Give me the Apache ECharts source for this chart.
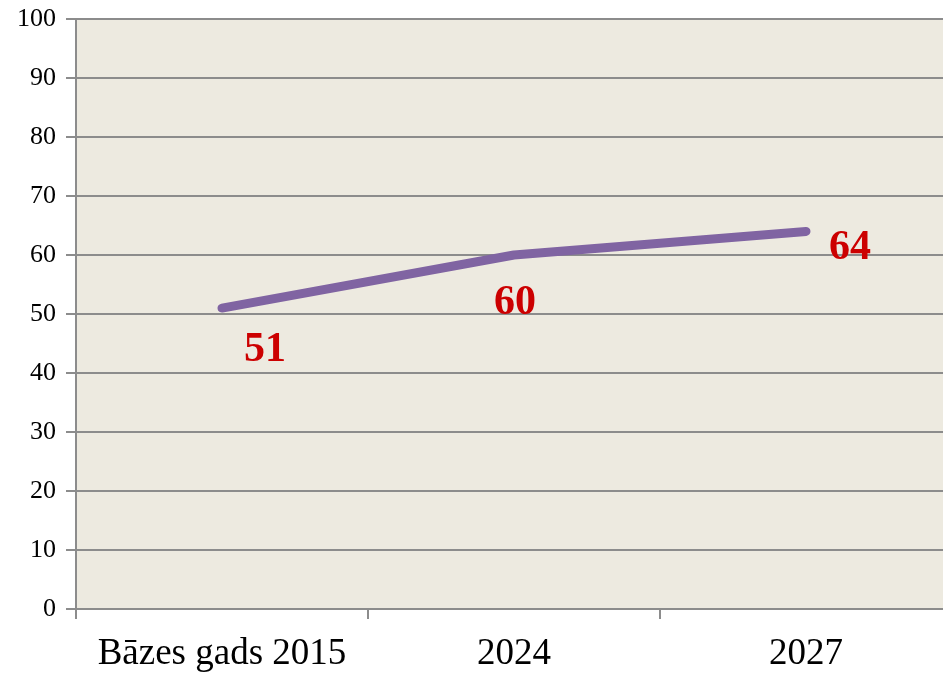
<!DOCTYPE html>
<html>
<head>
<meta charset="utf-8">
<script src="https://cdn.jsdelivr.net/npm/echarts@6/dist/echarts.min.js"></script>
<style>
    html, body { margin: 0; padding: 0; background: #fff; }
    #chart { width: 943px; height: 673px; }
</style>
</head>
<body>
<div id="chart"></div>
<script>
// dati
const categories = ['Bāzes gads 2015', '2024', '2027'];
const values = [51, 60, 64];
const yTicks = [0, 10, 20, 30, 40, 50, 60, 70, 80, 90, 100];

// label shifts per point (x, y)
const labelOffsets = [[43, 42], [1, 48], [44, 17]];

let myChart = echarts.init(document.getElementById('chart'));

let option = {
    animation: false,
    grid: {
        left: 76,
        top: 19,
        width: 876,
        height: 590,
        show: true,
        backgroundColor: '#edeae0',
        borderWidth: 0,
        outerBoundsMode: 'none'
    },
    xAxis: {
        type: 'category',
        data: categories,
        boundaryGap: true,
        axisLine: { lineStyle: { color: '#8c8c8c', width: 2 } },
        axisTick: { show: true, interval: 0, length: 10, lineStyle: { color: '#8c8c8c', width: 2 } },
        axisLabel: {
            interval: 0,
            hideOverlap: false,
            color: '#000',
            fontFamily: 'Liberation Serif',
            fontSize: 37,
            margin: 27
        },
        splitLine: { show: false }
    },
    yAxis: {
        type: 'value',
        min: yTicks[0],
        max: yTicks[yTicks.length - 1],
        interval: 10,
        axisLine: { show: true, lineStyle: { color: '#8c8c8c', width: 2 } },
        axisTick: { show: true, length: 10, lineStyle: { color: '#8c8c8c', width: 2 } },
        axisLabel: {
            color: '#000',
            fontFamily: 'Liberation Serif',
            fontSize: 26,
            margin: 20
        },
        splitLine: { lineStyle: { color: '#8c8c8c', width: 2 } }
    },
    series: [
        {
            type: 'line',
            data: values,
            symbol: 'circle',
            symbolSize: 1,
            showSymbol: true,
            itemStyle: { color: 'rgba(128,100,162,0)' },
            lineStyle: { color: '#8064a2', width: 9, cap: 'round' },
            label: {
                show: true,
                position: 'inside',
                color: '#cc0000',
                fontFamily: 'Liberation Serif',
                fontWeight: 'bold',
                fontSize: 42
            },
            labelLayout: function (params) {
                const o = labelOffsets[params.dataIndex];
                return { dx: o[0], dy: o[1], hideOverlap: false };
            }
        }
    ]
};

myChart.setOption(option);
</script>
</body>
</html>
